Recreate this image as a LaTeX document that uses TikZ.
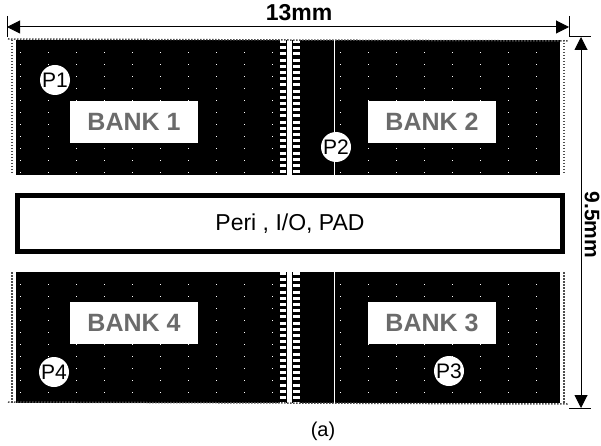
\documentclass[tikz,border=0pt]{standalone}
\usepackage{fontspec}
\setmainfont{Liberation Sans}
\usepackage{xcolor}
\usetikzlibrary{arrows.meta,positioning,calc}

\begin{document}
\begin{tikzpicture}[
  x=1pt, y=-1pt,
  bank/.style={fill=black, inner sep=0pt, outer sep=0pt, minimum height=#1},
  bank/.default=135pt,
  lbl/.style={fill=white, inner sep=0pt, outer sep=0pt, minimum width=128pt, minimum height=42pt,
              text=black!58, font=\bfseries\fontsize{25}{25}\selectfont},
  pin/.style={circle, fill=white, inner sep=0pt, outer sep=0pt, minimum size=30pt,
              font=\fontsize{21}{21}\selectfont},
  dim/.style={{Triangle[length=13pt,width=13pt]}-{Triangle[length=13pt,width=13pt]}, line width=1pt},
  tick/.style={line width=1pt},
  edge/.style={black!70, line width=2.5pt, dash pattern=on 1.5pt off 1.5pt},
  rung/.style={white, line width=#1, dash pattern=on 3pt off 3.2pt},
  speck/.style={white, line width=0.7pt, dash pattern=on 1pt off 27pt}]

\useasboundingbox (0,0) rectangle (601,446);

% memory arrays
\node[bank, minimum width=262pt, anchor=north west] (nw) at (16,40) {};
\node[bank, minimum width=24pt, right=0pt of nw] (stripN) {};
\node[bank, minimum width=258pt, right=0pt of stripN] (ne) {};
\node[bank=131pt, minimum width=262pt, anchor=north west] (sw) at (16,272) {};
\node[bank=131pt, minimum width=24pt, right=0pt of sw] (stripS) {};
\node[bank=131pt, minimum width=258pt, right=0pt of stripS] (se) {};

\foreach \s in {stripN, stripS} {
  \fill[white] ($(\s.north west)+(9,0)$) rectangle ($(\s.south west)+(14,0)$);
  \draw[rung=6pt] ($(\s.north west)+(5,0)$) -- ($(\s.south west)+(5,0)$);
  \draw[rung=7pt] ($(\s.north west)+(18.5,0)$) -- ($(\s.south west)+(18.5,0)$);
}
\draw[white, line width=1pt] ($(ne.north west)+(32,0)$) -- ($(ne.south west)+(32,0)$);
\draw[white, line width=1pt] ($(se.north west)+(32,0)$) -- ($(se.south west)+(32,0)$);

% specks on the dark cells
\foreach \y in {52,64,...,172} {
  \draw[speck] (20,\y) -- (276,\y);
  \draw[speck] (340,\y) -- (558,\y);
}
\foreach \y in {284,296,...,400} {
  \draw[speck] (20,\y) -- (276,\y);
  \draw[speck] (340,\y) -- (558,\y);
}

% rough outline of the die
\foreach \a/\b in {nw.north west/ne.north east, sw.south west/se.south east}
  \draw[edge, line width=1.5pt] ($(\a)+(-8,-1)$) -- ($(\b)+(8,1)$);
\foreach \a/\b in {nw.north west/nw.south west, sw.north west/sw.south west}
  \draw[edge] ($(\a)+(-4,0)$) -- ($(\b)+(-4,0)$);
\foreach \a/\b in {ne.north east/ne.south east, se.north east/se.south east}
  \draw[edge] ($(\a)+(4,0)$) -- ($(\b)+(4,0)$);

\node[lbl] (bank1) at (134,122) {BANK 1};
\node[lbl] (bank2) at (432,122) {BANK 2};
\node[lbl] (bank4) at (134,323) {BANK 4};
\node[lbl] (bank3) at (432,323) {BANK 3};

\node[pin] (p1) at (55,80) {P1};
\node[pin] (p2) at (336,147) {P2};
\node[pin] (p4) at (54,372) {P4};
\node[pin] (p3) at (449,371) {P3};

\node[draw, line width=5pt, fill=white, minimum width=545pt, minimum height=56pt,
      inner sep=0pt, font=\fontsize{23}{23}\selectfont] (peri) at (290,223.5) {Peri , I/O, PAD};

% dimensions
\coordinate (wL) at (7,27);
\coordinate (wR) at (569,27);
\coordinate (hT) at (581,37);
\coordinate (hB) at (581,408);
\draw[tick] ($(wL)+(0,-11)$) -- ($(wL)+(0,10)$);
\draw[tick] ($(wR)+(0,-11)$) -- ($(wR)+(0,10)$);
\draw[tick] ($(hT)+(-12,0)$) -- ($(hT)+(10,0)$);
\draw[tick] ($(hB)+(-12,0)$) -- ($(hB)+(10,0)$);
\draw[dim] (wL) -- (wR);
\draw[dim] (hT) -- (hB);

\node[font=\bfseries\fontsize{23}{23}\selectfont, inner sep=0pt] (width) at (299,13) {13mm};
\node[font=\bfseries\fontsize{21}{21}\selectfont, inner sep=0pt, rotate=-90] (height) at (592,225) {9.5mm};
\node[font=\fontsize{20}{20}\selectfont, inner sep=0pt] (cap) at (323,431) {(a)};
\end{tikzpicture}
\end{document}
